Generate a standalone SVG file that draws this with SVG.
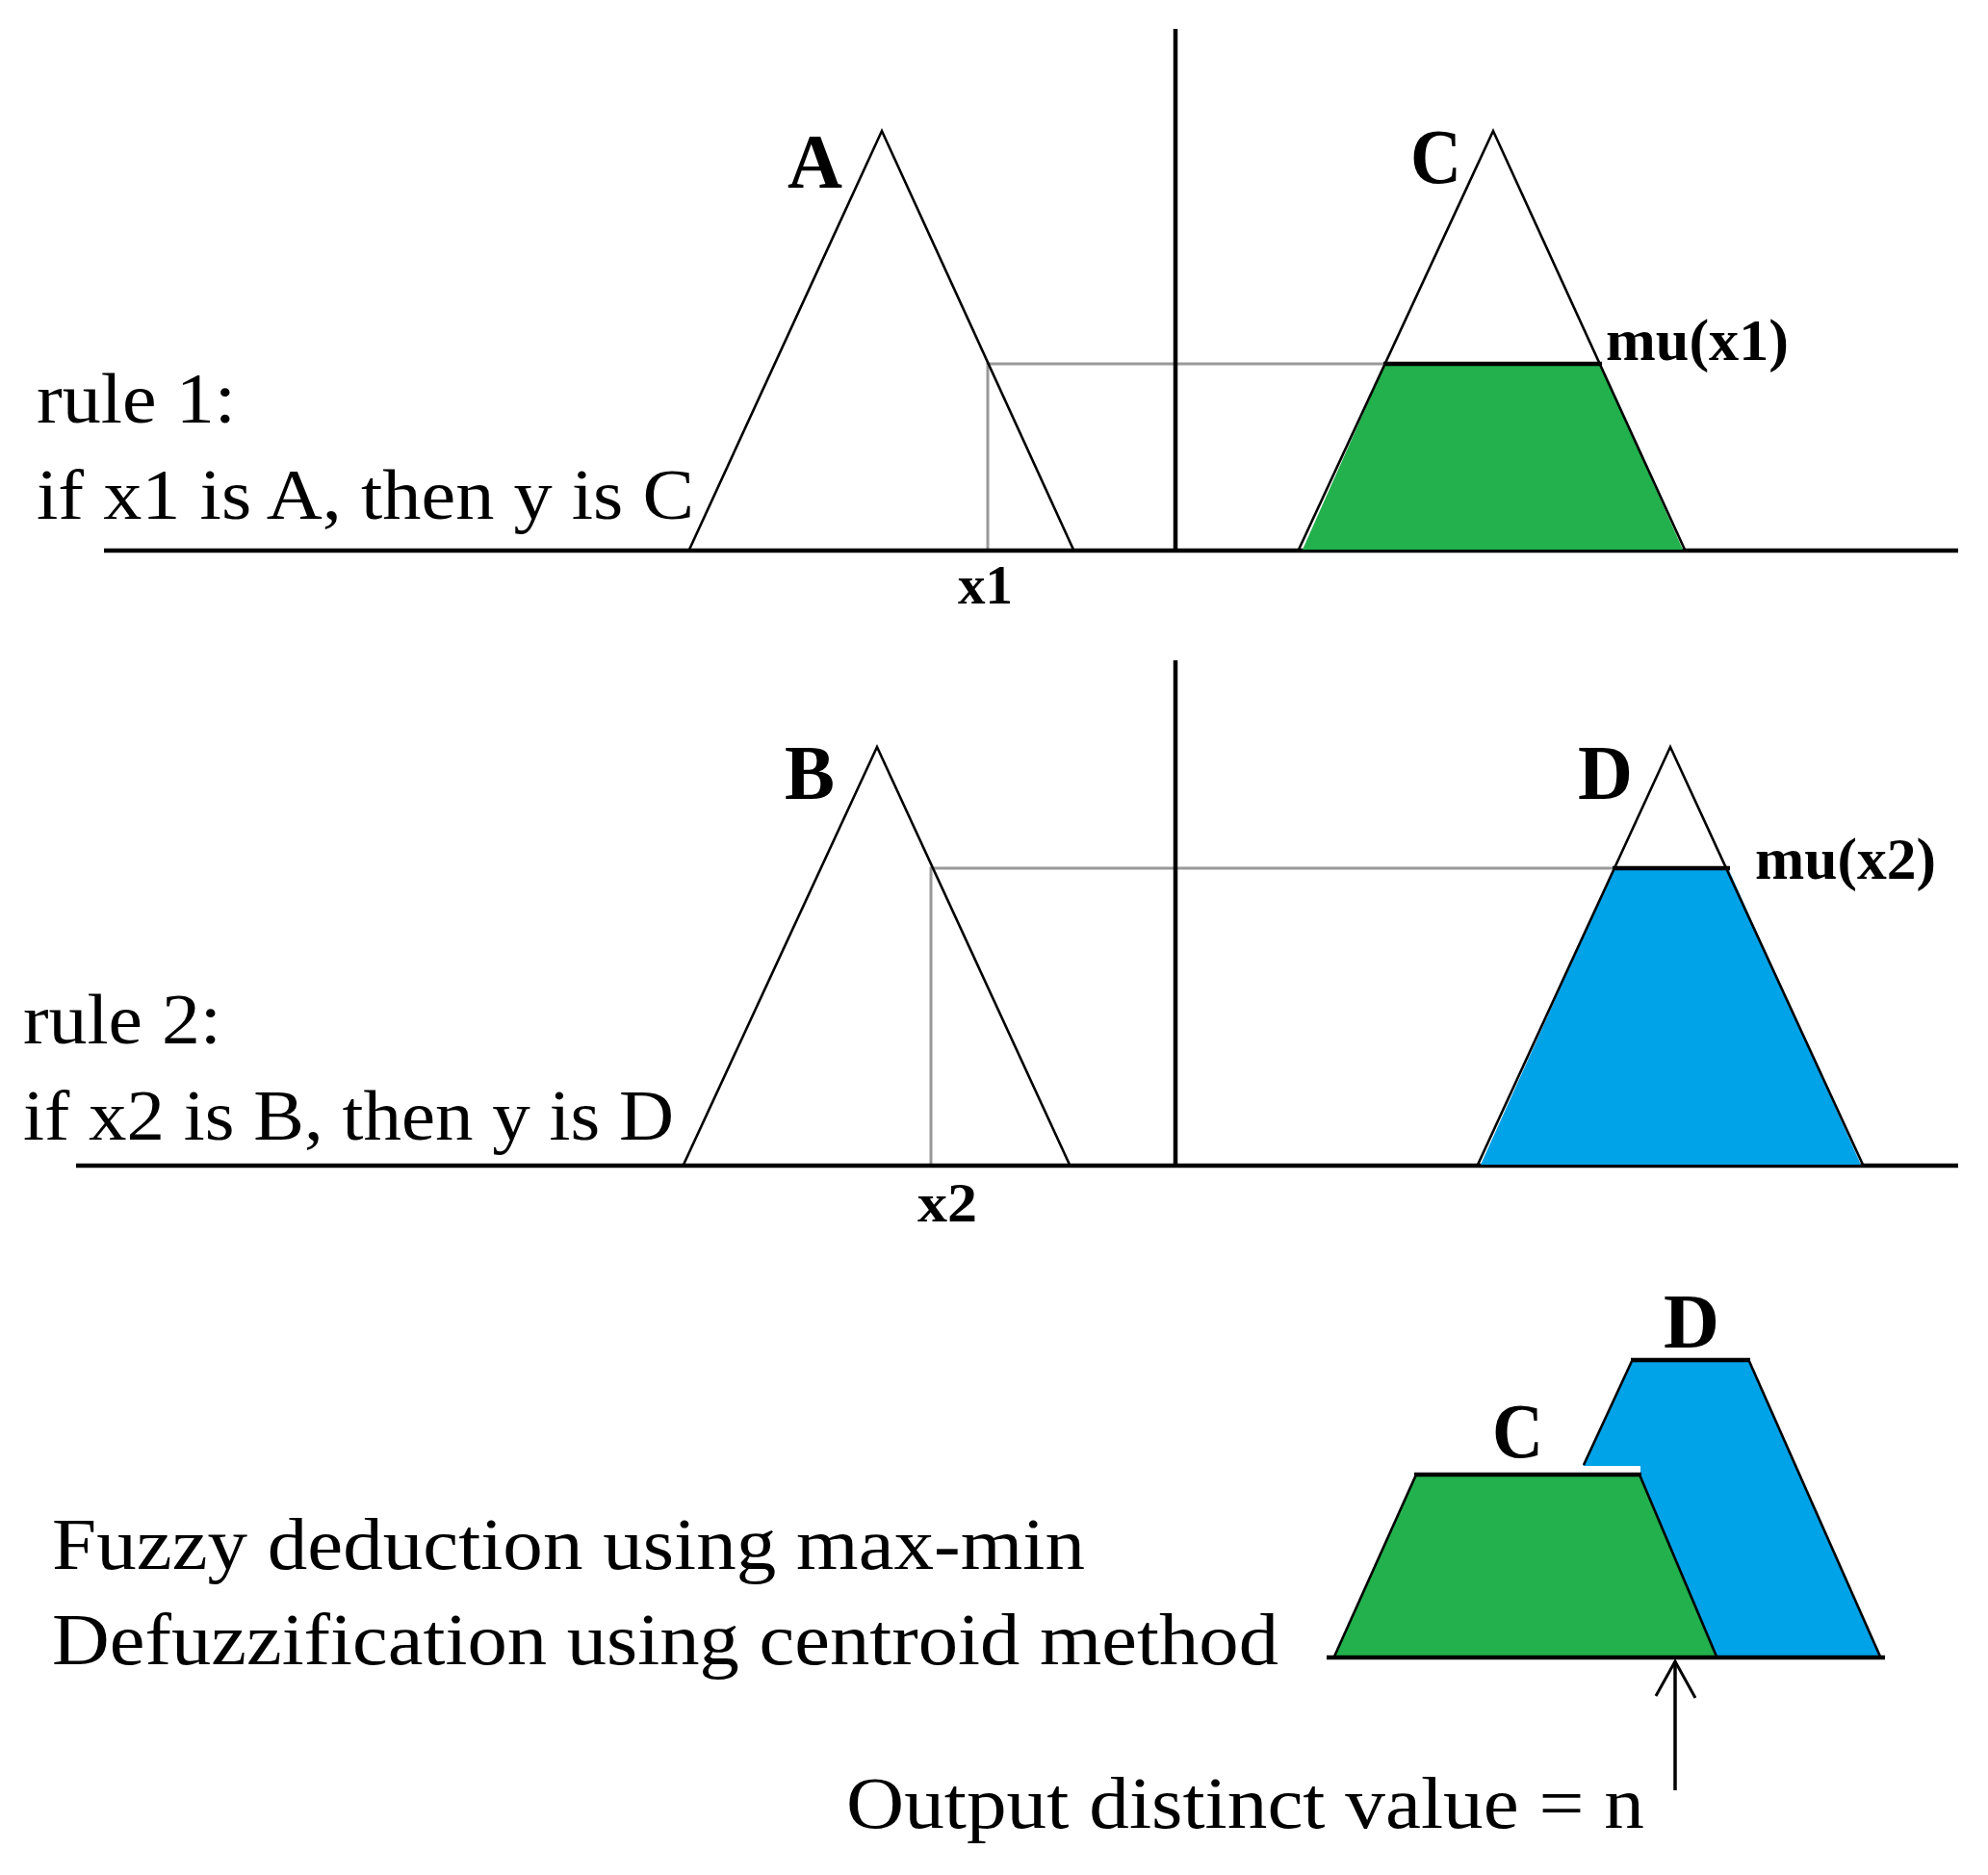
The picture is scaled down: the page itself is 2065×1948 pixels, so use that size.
<svg xmlns="http://www.w3.org/2000/svg" width="2065" height="1948" viewBox="0 0 2065 1948">
<style>
.bg{fill:#ffffff}
.axis{stroke:#000;stroke-width:4.5;fill:none}
.tri{stroke:#000;stroke-width:2.6;fill:none;stroke-linejoin:miter}
.cap{stroke:#000;stroke-width:4.5;fill:none}
.green{fill:#22B14C}
.blue{fill:#00A2E8}
.proj{stroke:#999999;stroke-width:3;fill:none}
.lbl{font-family:"Liberation Serif","Times New Roman",serif;font-weight:bold;fill:#000}
.txt{font-family:"Liberation Serif","Times New Roman",serif;fill:#000}
</style>
<rect class="bg" x="0" y="0" width="2065" height="1948"/>

<g id="connectors">
  <!-- rule 1 projection -->
  <polyline class="proj" points="1026,572 1026,378 1439,378"/>
  <!-- rule 2 projection -->
  <polyline class="proj" points="967,1211 967,902 1677,902"/>
  <!-- output arrow -->
  <line x1="1740" y1="1726" x2="1740" y2="1860" stroke="#000" stroke-width="3.5"/>
  <polyline points="1720,1762 1740,1726 1761,1764" stroke="#000" stroke-width="3" fill="none"/>
</g>

<g id="rule1">
  <line class="axis" x1="1221" y1="30" x2="1221" y2="574"/>
  <line class="axis" x1="108" y1="572" x2="2034" y2="572"/>
  <polyline class="tri" points="716,571 916,136 1115,571"/>
  <text class="lbl" x="818" y="195" font-size="80" textLength="57" lengthAdjust="spacingAndGlyphs">A</text>
  <text class="lbl" x="995" y="627" font-size="56" textLength="57" lengthAdjust="spacingAndGlyphs">x1</text>
  <polygon class="green" points="1353,571 1439,378 1662,378 1748,571"/>
  <polyline class="tri" points="1349,571 1551,136 1750,571"/>
  <line class="cap" x1="1437" y1="378" x2="1664" y2="378"/>
  <text class="lbl" x="1465" y="190" font-size="80" textLength="53" lengthAdjust="spacingAndGlyphs">C</text>
  <text class="lbl" x="1668" y="374" font-size="62" textLength="190" lengthAdjust="spacingAndGlyphs">mu(x1)</text>
  <text class="txt" x="38" y="439" font-size="74" textLength="207" lengthAdjust="spacingAndGlyphs">rule 1:</text>
  <text class="txt" x="38" y="539" font-size="74" textLength="683" lengthAdjust="spacingAndGlyphs">if x1 is A, then y is C</text>
</g>

<g id="rule2">
  <line class="axis" x1="1221" y1="686" x2="1221" y2="1213"/>
  <line class="axis" x1="79" y1="1211" x2="2034" y2="1211"/>
  <polyline class="tri" points="710,1210 911,776 1111,1210"/>
  <text class="lbl" x="815" y="830" font-size="80" textLength="52" lengthAdjust="spacingAndGlyphs">B</text>
  <text class="lbl" x="953" y="1269" font-size="56" textLength="62" lengthAdjust="spacingAndGlyphs">x2</text>
  <polygon class="blue" points="1538,1210 1677,902 1795,902 1933,1210"/>
  <polyline class="tri" points="1535,1210 1735,776 1935,1210"/>
  <line class="cap" x1="1675" y1="902" x2="1797" y2="902"/>
  <text class="lbl" x="1639" y="830" font-size="80" textLength="57" lengthAdjust="spacingAndGlyphs">D</text>
  <text class="lbl" x="1823" y="913" font-size="62" textLength="188" lengthAdjust="spacingAndGlyphs">mu(x2)</text>
  <text class="txt" x="24" y="1084" font-size="74" textLength="206" lengthAdjust="spacingAndGlyphs">rule 2:</text>
  <text class="txt" x="24" y="1184" font-size="74" textLength="676" lengthAdjust="spacingAndGlyphs">if x2 is B, then y is D</text>
</g>

<g id="result">
  <polygon class="blue" points="1552,1721 1696,1412 1816,1412 1953,1721"/>
  <line class="tri" x1="1696" y1="1412" x2="1645" y2="1522"/>
  <line class="tri" x1="1816" y1="1412" x2="1953" y2="1721"/>
  <line class="cap" x1="1694" y1="1413" x2="1818" y2="1413"/>
  <rect x="1640" y="1523" width="64" height="7" fill="#ffffff"/>
  <polygon class="green" points="1386,1721 1471,1532 1703,1532 1782,1721"/>
  <line class="tri" x1="1471" y1="1532" x2="1386" y2="1721"/>
  <line class="tri" x1="1703" y1="1532" x2="1783" y2="1721"/>
  <line class="cap" x1="1469" y1="1532" x2="1705" y2="1532"/>
  <line class="axis" x1="1378" y1="1722" x2="1958" y2="1722"/>
  <text class="lbl" x="1550" y="1514" font-size="80" textLength="53" lengthAdjust="spacingAndGlyphs">C</text>
  <text class="lbl" x="1728" y="1400" font-size="80" textLength="58" lengthAdjust="spacingAndGlyphs">D</text>
  <text class="txt" x="54" y="1630" font-size="76" textLength="1073" lengthAdjust="spacingAndGlyphs">Fuzzy deduction using max-min</text>
  <text class="txt" x="54" y="1729" font-size="76" textLength="1274" lengthAdjust="spacingAndGlyphs">Defuzzification using centroid method</text>
  <text class="txt" x="879" y="1899" font-size="76" textLength="829" lengthAdjust="spacingAndGlyphs">Output distinct value = n</text>
</g>
</svg>
